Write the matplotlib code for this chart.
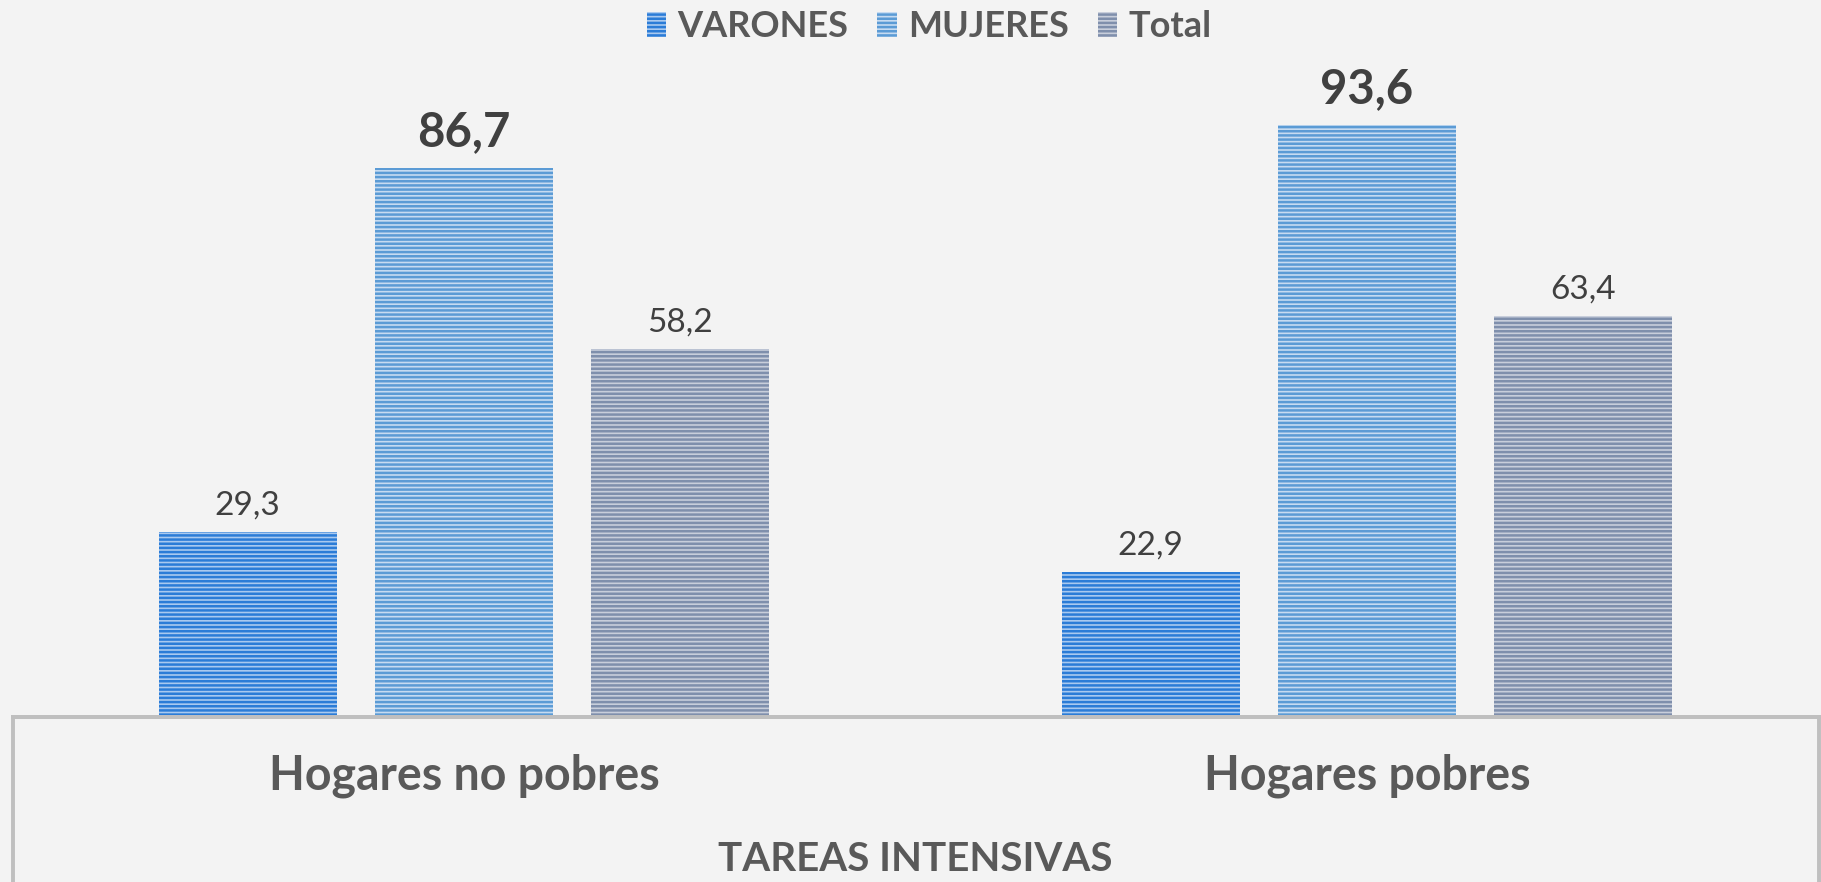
import matplotlib
matplotlib.use("Agg")
import matplotlib.pyplot as plt
from matplotlib.patches import Rectangle
import numpy as np

plt.rcParams['font.family'] = ['Lato', 'DejaVu Sans']
plt.rcParams['hatch.linewidth'] = 1.8

# datos
categorias = ["Hogares no pobres", "Hogares pobres"]
series = ["VARONES", "MUJERES", "Total"]
varones = [29.3, 22.9]
mujeres = [86.7, 93.6]
total = [58.2, 63.4]
titulo_eje = "TAREAS INTENSIVAS"

valores = [varones, mujeres, total]
fondo = ['#a9c9ef', '#c6dbf1', '#c8cedb']
raya = ['#2b7cd7', '#5b9bd5', '#7f8fac']

W, H = 1821, 882
fig = plt.figure(figsize=(W / 100, H / 100), dpi=100)
fig.patch.set_facecolor('#f3f3f3')
base = 717
top = 84
ax = fig.add_axes([12.5 / W, (H - base) / H, 1806 / W, (base - top) / H])
ax.set_facecolor('#f3f3f3')

x = np.arange(len(categorias))
ancho = 0.197
paso = 0.2396
barras = []
for i, (nombre, vals) in enumerate(zip(series, valores)):
    b = ax.bar(x + (i - 1) * paso, vals, ancho, label=nombre,
               color=fondo[i], edgecolor=raya[i], linewidth=0, hatch='----')
    barras.append(b)
    etiquetas = [f"{v:.1f}".replace('.', ',') for v in vals]
    if nombre == "MUJERES":
        ax.bar_label(b, labels=etiquetas, padding=10, fontsize=34,
                     fontweight='bold', color='#404040')
    else:
        ax.bar_label(b, labels=etiquetas, padding=8, fontsize=24,
                     fontweight='normal', color='#404040')

ax.set_xlim(-0.5, 1.5)
ax.set_ylim(0, 100)
ax.set_yticks([])
for s in ['left', 'right', 'top']:
    ax.spines[s].set_visible(False)
ax.spines['bottom'].set_color('#bfbfbf')
ax.spines['bottom'].set_linewidth(2.8)

ax.set_xticks(x)
ax.set_xticklabels(categorias, fontsize=33.5, fontweight='bold', color='#595959')
ax.tick_params(axis='x', length=0, pad=26)
ax.set_xlabel(titulo_eje, fontsize=29, fontweight='bold', color='#595959', labelpad=31)

# caja del eje de categorias
caja = Rectangle((0, -0.5), 1, 0.5, transform=ax.transAxes, fill=False,
                 edgecolor='#bfbfbf', linewidth=2.8, clip_on=False)
ax.add_patch(caja)

fig.legend(handles=barras, labels=series, loc='upper center',
           bbox_to_anchor=(929 / W, 1.025), ncol=3, frameon=False,
           handlelength=0.55, handleheight=0.7,
           handletextpad=0.3, columnspacing=0.8,
           prop={'weight': 'bold', 'size': 26}, labelcolor='#595959')

fig.savefig('out.png', dpi=100, facecolor=fig.get_facecolor())
